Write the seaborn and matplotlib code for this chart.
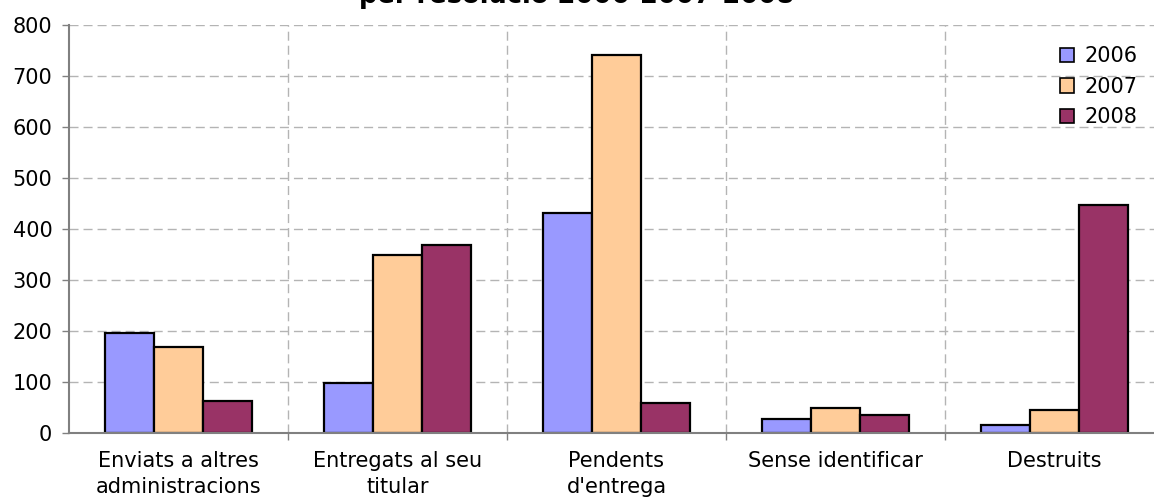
import numpy as np
import pandas as pd
import matplotlib
matplotlib.use("Agg")
import matplotlib.pyplot as plt
import seaborn as sns

# values
categories = ["Enviats a altres\nadministracions", "Entregats al seu\ntitular",
              "Pendents\nd'entrega", "Sense identificar", "Destruits"]
years = ["2006", "2007", "2008"]
vals_2006 = [196, 98, 431, 27, 15]
vals_2007 = [169, 349, 741, 50, 46]
vals_2008 = [63, 368, 58, 35, 447]
colors = ["#9999FF", "#FFCC99", "#993366"]

df = pd.DataFrame({
    "categoria": categories * 3,
    "any": [y for y in years for _ in categories],
    "valor": vals_2006 + vals_2007 + vals_2008,
})

sns.set_theme(style="white")
plt.rcParams["font.family"] = ["DejaVu Sans"]
plt.rcParams["text.color"] = "black"
plt.rcParams["xtick.labelcolor"] = "black"
plt.rcParams["ytick.labelcolor"] = "black"

W, H = 1154, 504
fig = plt.figure(figsize=(W / 100, H / 100), dpi=100)
ax = fig.add_axes([69 / W, (H - 433) / H, (1164 - 69) / W, (433 - 25) / H])

sns.barplot(data=df, x="categoria", y="valor", hue="any", palette=colors,
            width=0.667, gap=0, edgecolor="black", linewidth=1.6,
            saturation=1, ax=ax, zorder=3)

ax.set_xlim(-0.5, 4.5)
ax.set_ylim(0, 800)
ax.set_yticks(np.arange(0, 801, 100))
ax.set_xlabel("")
ax.set_ylabel("")

# vertical grid at category boundaries, horizontal grid at each 100
ax.set_xticks(np.arange(0.5, 5, 1), minor=True)
ax.tick_params(axis="x", which="major", length=0, labelsize=15, pad=13)
ax.tick_params(axis="x", which="minor", length=5, width=1, color="#808080",
               direction="out", bottom=True)
ax.tick_params(axis="y", length=5, width=1, color="#808080", direction="out",
               left=True, labelsize=15, pad=7)
for lab in ax.get_xticklabels():
    lab.set_linespacing(1.4)
grid_kw = dict(color="#B4B4B4", linestyle=(0, (6.5, 3.6)), linewidth=1.0)
ax.yaxis.grid(True, **grid_kw)
ax.xaxis.grid(True, which="minor", **grid_kw)
ax.xaxis.grid(False, which="major")
ax.set_axisbelow(True)

for side in ["top", "right"]:
    ax.spines[side].set_visible(False)
for side in ["left", "bottom"]:
    ax.spines[side].set_color("#808080")
    ax.spines[side].set_linewidth(1.5)
    ax.spines[side].set_zorder(4)

leg = ax.legend(loc="upper right", bbox_to_anchor=(1146 / W, 1 - 38 / H),
                bbox_transform=fig.transFigure, frameon=False, fontsize=15,
                handlelength=0.7, handleheight=0.7, handletextpad=0.5,
                labelspacing=0.5, borderaxespad=0)
for h in leg.legend_handles:
    h.set_edgecolor("black")
    h.set_linewidth(1.2)

# title is cut by the top edge in the original
fig.text(0.5, 1 - 3 / H, "per resolució 2006-2007-2008", ha="center",
         va="baseline", fontsize=18.5, fontweight="bold")

fig.savefig("out.png", dpi=100)
